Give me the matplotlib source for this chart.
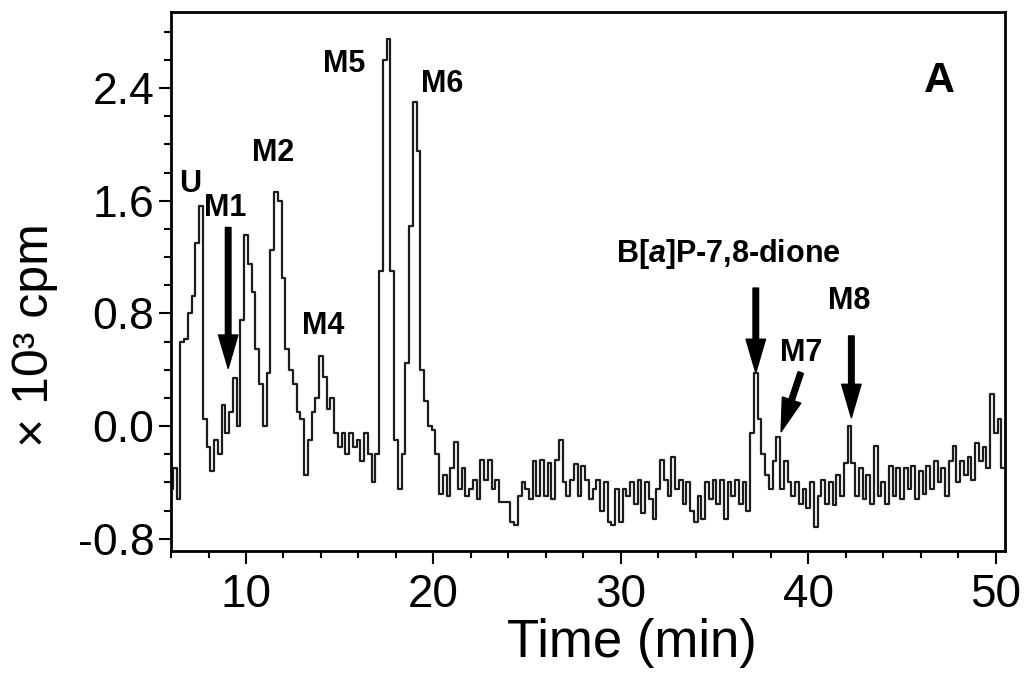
import numpy as np
import matplotlib.pyplot as plt
from matplotlib.ticker import MultipleLocator, FixedLocator

plt.rcParams['font.family'] = ['Liberation Sans', 'DejaVu Sans']
plt.rcParams['axes.unicode_minus'] = False
plt.rcParams['mathtext.fontset'] = 'custom'
plt.rcParams['mathtext.rm'] = 'Liberation Sans:bold'
plt.rcParams['mathtext.it'] = 'Liberation Sans:italic:bold'

# 放射性色谱数据: 从6 min开始, 每0.2 min一个点 (x10^3 cpm)
t_start = 6.0
t_step = 0.2
cpm_06 = [-0.45, -0.30, -0.52, 0.60, 0.62, 0.80, 0.92, 1.30, 1.56, 0.05,
          -0.15, -0.32, -0.10, -0.20, 0.15, -0.05, 0.10, 0.34, 0.00, 0.75]
cpm_10 = [1.36, 1.15, 0.95, 0.55, 0.30, 0.00, 0.38, 1.25, 1.66, 1.60,
          1.05, 0.55, 0.40, 0.30, 0.10, 0.05, -0.35, -0.10, 0.10, 0.20]
cpm_14 = [0.50, 0.35, 0.12, 0.20, -0.05, -0.15, -0.05, -0.20, -0.05, -0.15,
          -0.10, -0.25, -0.05, -0.20, -0.40, -0.20, 1.10, 2.60, 2.75, 1.10]
cpm_18 = [-0.10, -0.45, -0.20, 0.45, 1.42, 2.30, 1.95, 0.40, 0.18, 0.00,
          -0.03, -0.20, -0.48, -0.35, -0.50, -0.30, -0.11, -0.45, -0.30, -0.50]
cpm_22 = [-0.45, -0.38, -0.52, -0.24, -0.38, -0.24, -0.45, -0.38, -0.54, -0.54,
          -0.54, -0.68, -0.70, -0.50, -0.40, -0.45, -0.52, -0.25, -0.50, -0.24]
cpm_26 = [-0.50, -0.26, -0.52, -0.24, -0.10, -0.40, -0.50, -0.38, -0.27, -0.50,
          -0.28, -0.38, -0.52, -0.45, -0.38, -0.60, -0.40, -0.68, -0.70, -0.45]
cpm_30 = [-0.68, -0.45, -0.50, -0.40, -0.55, -0.38, -0.62, -0.40, -0.52, -0.66,
          -0.45, -0.24, -0.38, -0.50, -0.22, -0.45, -0.38, -0.55, -0.40, -0.60]
cpm_34 = [-0.68, -0.50, -0.66, -0.40, -0.52, -0.38, -0.55, -0.38, -0.66, -0.40,
          -0.50, -0.38, -0.55, -0.40, -0.60, -0.05, 0.38, 0.05, -0.20, -0.35]
cpm_38 = [-0.45, -0.25, -0.08, -0.45, -0.25, -0.40, -0.50, -0.40, -0.55, -0.45,
          -0.58, -0.40, -0.72, -0.50, -0.38, -0.55, -0.40, -0.56, -0.35, -0.50]
cpm_42 = [-0.26, 0.00, -0.26, -0.50, -0.30, -0.52, -0.35, -0.55, -0.14, -0.50,
          -0.40, -0.55, -0.28, -0.50, -0.30, -0.52, -0.30, -0.45, -0.28, -0.52]
cpm_46 = [-0.32, -0.48, -0.28, -0.45, -0.25, -0.40, -0.30, -0.50, -0.25, -0.14,
          -0.40, -0.25, -0.35, -0.22, -0.38, -0.12, -0.25, -0.15, -0.30, 0.23,
          -0.05, 0.05, -0.30]

# 峰标注: 文字, 文字位置
peak_labels = ['U', 'M1', 'M2', 'M4', 'M5', 'M6', 'B[$\\it{a}$]P-7,8-dione', 'M7', 'M8']
label_x = [7.0, 8.9, 11.45, 14.1, 15.25, 20.45, 35.75, 39.6, 42.2]
label_y = [1.72, 1.55, 1.94, 0.71, 2.57, 2.43, 1.22, 0.52, 0.89]
# 箭头: 起点 -> 终点
arrow_start = [(9.05, 1.41), (37.2, 0.98), (39.6, 0.38), (42.3, 0.64)]
arrow_end = [(9.05, 0.41), (37.2, 0.38), (38.55, -0.04), (42.3, 0.06)]

cpm = np.concatenate([cpm_06, cpm_10, cpm_14, cpm_18, cpm_22, cpm_26,
                      cpm_30, cpm_34, cpm_38, cpm_42, cpm_46])
time = t_start + t_step * np.arange(len(cpm))

fig = plt.figure(figsize=(10.34, 6.93), dpi=100)
ax = fig.add_axes([0.1654, 0.2049, 0.8066, 0.7778])

ax.plot(time, cpm, drawstyle='steps-mid', color='#1c1c1c', lw=1.6)

ax.set_xlim(6, 50.5)
ax.set_ylim(-0.887, 2.94)
ax.xaxis.set_major_locator(FixedLocator([10, 20, 30, 40, 50]))
ax.xaxis.set_minor_locator(MultipleLocator(2))
ax.yaxis.set_major_locator(FixedLocator([-0.8, 0.0, 0.8, 1.6, 2.4]))
ax.yaxis.set_minor_locator(MultipleLocator(0.2))
ax.set_yticklabels(['-0.8', '0.0', '0.8', '1.6', '2.4'], fontsize=32)
ax.set_xticklabels(['10', '20', '30', '40', '50'], fontsize=33)
ax.tick_params(which='major', length=9, width=1.5, direction='out')
ax.tick_params(which='minor', length=5, width=1.5, direction='out')
ax.tick_params(axis='x', which='major', pad=7)
ax.tick_params(axis='y', which='major', pad=3)
for sp in ax.spines.values():
    sp.set_linewidth(2)

ax.set_xlabel('Time (min)', fontsize=38)
ax.xaxis.set_label_coords(0.553, -0.125)
ax.set_ylabel('× 10³ cpm', fontsize=36)
ax.yaxis.set_label_coords(-0.135, 0.40)

for s, x, y in zip(peak_labels, label_x, label_y):
    ax.text(x, y, s, fontsize=22, fontweight='bold', ha='center', va='center')

for p0, p1 in zip(arrow_start, arrow_end):
    ax.annotate('', xy=p1, xytext=p0,
                arrowprops=dict(facecolor='black', edgecolor='black',
                                width=4, headwidth=14, headlength=24, shrink=0))

ax.text(47.0, 2.45, 'A', fontsize=31, fontweight='bold', ha='center', va='center')

fig.savefig('out.png', dpi=100)
